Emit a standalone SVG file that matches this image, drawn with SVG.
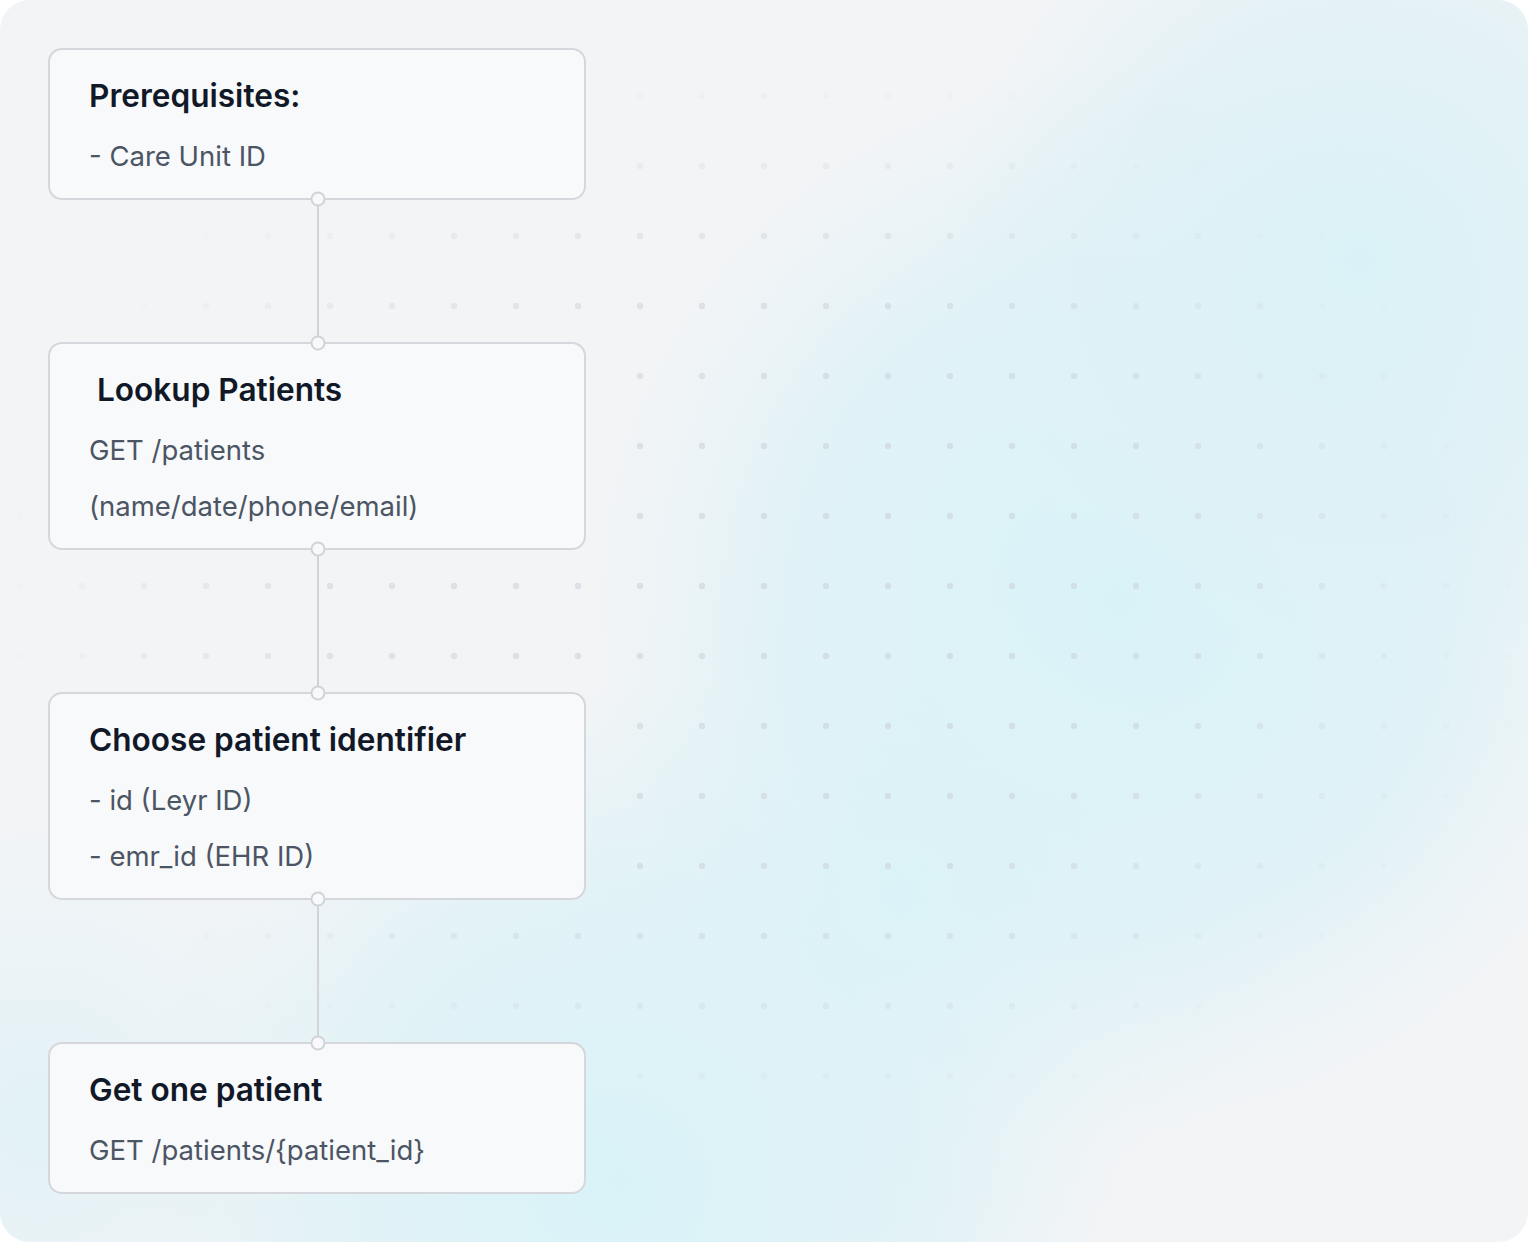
<svg xmlns="http://www.w3.org/2000/svg" width="1528" height="1242" viewBox="0 0 1528 1242">
  <defs>
    <style>
      .node rect.box { fill: #f8f9fb; stroke: #d5d7dd; stroke-width: 2; }
      .title { font-family: Inter, "Noto Sans", "Liberation Sans", sans-serif; font-weight: 600; font-size: 31.6px; fill: #111827; }
      .body { font-family: Inter, "Noto Sans", "Liberation Sans", sans-serif; font-weight: 400; font-size: 27.5px; fill: #4b5563; }
      .edge { stroke: #d1d3d9; stroke-width: 2; fill: none; }
      .port { fill: #f8f9fb; stroke: #d1d3d9; stroke-width: 2; }
    </style>
    <radialGradient id="cyan1" cx="1120" cy="600" r="540" gradientUnits="userSpaceOnUse">
      <stop offset="0" stop-color="#d8f3f8" stop-opacity="1"/>
      <stop offset="0.6" stop-color="#dcf2f7" stop-opacity="0.8"/>
      <stop offset="1" stop-color="#e0f2f7" stop-opacity="0"/>
    </radialGradient>
    <radialGradient id="cyan2" cx="620" cy="1180" r="500" gradientUnits="userSpaceOnUse">
      <stop offset="0" stop-color="#d8f3f8" stop-opacity="1"/>
      <stop offset="0.6" stop-color="#dcf2f7" stop-opacity="0.7"/>
      <stop offset="1" stop-color="#e0f2f7" stop-opacity="0"/>
    </radialGradient>
    <radialGradient id="cyan3" cx="1360" cy="260" r="420" gradientUnits="userSpaceOnUse">
      <stop offset="0" stop-color="#daf2f7" stop-opacity="1"/>
      <stop offset="0.6" stop-color="#def1f6" stop-opacity="0.7"/>
      <stop offset="1" stop-color="#e0f2f7" stop-opacity="0"/>
    </radialGradient>
    <radialGradient id="cyan4" cx="40" cy="1120" r="320" gradientUnits="userSpaceOnUse">
      <stop offset="0" stop-color="#e0f2f7" stop-opacity="0.9"/>
      <stop offset="1" stop-color="#e2f2f7" stop-opacity="0"/>
    </radialGradient>
    <radialGradient id="cyan5" cx="900" cy="900" r="380" gradientUnits="userSpaceOnUse">
      <stop offset="0" stop-color="#d9f3f8" stop-opacity="0.8"/>
      <stop offset="1" stop-color="#e0f2f7" stop-opacity="0"/>
    </radialGradient>
    <pattern id="dots" x="20" y="26" width="62" height="70" patternUnits="userSpaceOnUse">
      <circle cx="0" cy="0" r="3.2" fill="#c9ced6"/>
      <circle cx="62" cy="0" r="3.2" fill="#c9ced6"/>
      <circle cx="0" cy="70" r="3.2" fill="#c9ced6"/>
      <circle cx="62" cy="70" r="3.2" fill="#c9ced6"/>
    </pattern>
    <radialGradient id="fade" cx="760" cy="600" r="780" gradientUnits="userSpaceOnUse" gradientTransform="translate(760 600) scale(1 0.72) translate(-760 -600)">
      <stop offset="0" stop-color="#fff" stop-opacity="1"/>
      <stop offset="0.55" stop-color="#fff" stop-opacity="0.9"/>
      <stop offset="1" stop-color="#fff" stop-opacity="0"/>
    </radialGradient>
    <mask id="dotmask" maskUnits="userSpaceOnUse" x="0" y="0" width="1528" height="1242">
      <rect x="0" y="0" width="1528" height="1242" fill="url(#fade)"/>
    </mask>
    <clipPath id="card">
      <rect x="0" y="0" width="1528" height="1242" rx="30" ry="30"/>
    </clipPath>
  </defs>

  <rect x="0" y="0" width="1528" height="1242" fill="#ffffff"/>
  <g id="background" clip-path="url(#card)">
    <rect x="0" y="0" width="1528" height="1242" fill="#f3f4f6"/>
    <rect x="0" y="0" width="1528" height="1242" fill="url(#cyan1)"/>
    <rect x="0" y="0" width="1528" height="1242" fill="url(#cyan2)"/>
    <rect x="0" y="0" width="1528" height="1242" fill="url(#cyan3)"/>
    <rect x="0" y="0" width="1528" height="1242" fill="url(#cyan4)"/>
    <rect x="0" y="0" width="1528" height="1242" fill="url(#cyan5)"/>
    <rect x="0" y="60" width="1528" height="1060" fill="url(#dots)" mask="url(#dotmask)" opacity="0.55"/>
  </g>

  <g id="connectors">
    <line class="edge" x1="318" y1="199" x2="318" y2="343"/>
    <line class="edge" x1="318" y1="549" x2="318" y2="693"/>
    <line class="edge" x1="318" y1="899" x2="318" y2="1043"/>
  </g>

  <g id="node-prerequisites" class="node">
    <rect class="box" x="49" y="49" width="536" height="150" rx="13"/>
    <text class="title" x="89" y="107">Prerequisites:</text>
    <text class="body" x="89" y="166">- Care Unit ID</text>
  </g>

  <g id="node-lookup" class="node">
    <rect class="box" x="49" y="343" width="536" height="206" rx="13"/>
    <text class="title" x="89" y="401" xml:space="preserve"> Lookup Patients</text>
    <text class="body" x="89" y="460">GET /patients</text>
    <text class="body" x="89" y="516">(name/date/phone/email)</text>
  </g>

  <g id="node-choose" class="node">
    <rect class="box" x="49" y="693" width="536" height="206" rx="13"/>
    <text class="title" x="89" y="751">Choose patient identifier</text>
    <text class="body" x="89" y="810">- id (Leyr ID)</text>
    <text class="body" x="89" y="866">- emr_id (EHR ID)</text>
  </g>

  <g id="node-get-one" class="node">
    <rect class="box" x="49" y="1043" width="536" height="150" rx="13"/>
    <text class="title" x="89" y="1101">Get one patient</text>
    <text class="body" x="89" y="1160">GET /patients/{patient_id}</text>
  </g>

  <g id="ports">
    <circle class="port" cx="318" cy="199" r="6.5"/>
    <circle class="port" cx="318" cy="343" r="6.5"/>
    <circle class="port" cx="318" cy="549" r="6.5"/>
    <circle class="port" cx="318" cy="693" r="6.5"/>
    <circle class="port" cx="318" cy="899" r="6.5"/>
    <circle class="port" cx="318" cy="1043" r="6.5"/>
  </g>
</svg>
